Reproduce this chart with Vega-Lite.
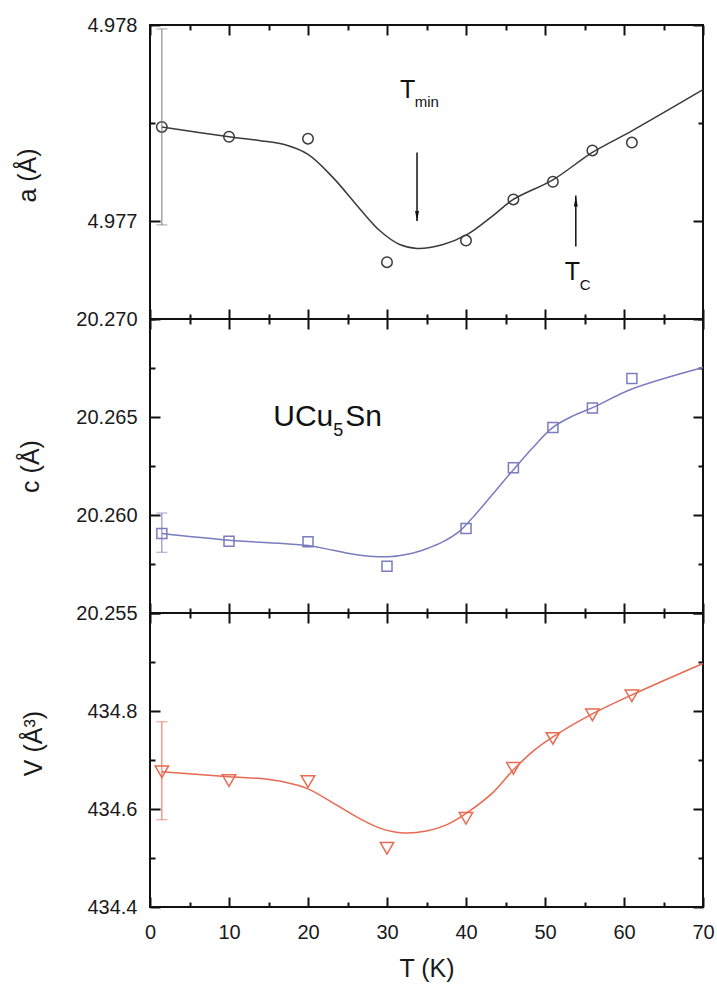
{
  "$schema": "https://vega.github.io/schema/vega-lite/v6.json",
  "padding": {"left": 14, "top": 14, "right": 10, "bottom": 5},
  "spacing": 0,
  "bounds": "flush",
  "datasets": {
    "a_pts": [{"T":1.5,"v":4.97748},{"T":10,"v":4.97743},{"T":20,"v":4.97742},{"T":30,"v":4.97679},{"T":40,"v":4.9769},{"T":46,"v":4.97711},{"T":51,"v":4.9772},{"T":56,"v":4.97736},{"T":61,"v":4.9774}],
    "a_fit": [{"T":1.5,"v":4.97748},{"T":10,"v":4.97743},{"T":14,"v":4.97741},{"T":17,"v":4.97739},{"T":20,"v":4.97734},{"T":23.2,"v":4.97722},{"T":26.6,"v":4.97706},{"T":29.1,"v":4.97695},{"T":31.6,"v":4.97688},{"T":33.8,"v":4.97686},{"T":37.1,"v":4.97688},{"T":40.1,"v":4.97693},{"T":43.5,"v":4.97703},{"T":46,"v":4.97711},{"T":51,"v":4.97721},{"T":56,"v":4.97735},{"T":61,"v":4.97746},{"T":70,"v":4.97767}],
    "a_err": [{"T":1.5,"lo":4.97698,"hi":4.97798}],
    "a_big": [{"T":31.65,"v":4.97763,"label":"T"},{"T":52.5,"v":4.9767,"label":"T"}],
    "a_small": [{"T":33.5,"v":4.97758,"label":"min"},{"T":54.4,"v":4.97665,"label":"C"}],
    "a_arrow": [{"T":33.8,"v":4.97735,"v2":4.977}, {"T":53.9,"v":4.97687,"v2":4.97713}],
    "a_head_down": [{"T":33.8,"v":4.977026}],
    "a_head_up": [{"T":53.9,"v":4.9771}],
    "c_pts": [{"T":1.5,"v":20.25905},{"T":10,"v":20.25866},{"T":20,"v":20.25864},{"T":30,"v":20.25739},{"T":40,"v":20.25931},{"T":46,"v":20.26241},{"T":51,"v":20.26447},{"T":56,"v":20.26546},{"T":61,"v":20.26697}],
    "c_fit": [{"T":1.5,"v":20.25905},{"T":10,"v":20.25871},{"T":20,"v":20.25844},{"T":23.2,"v":20.2582},{"T":26.6,"v":20.25795},{"T":30.2,"v":20.25787},{"T":32.9,"v":20.25802},{"T":35,"v":20.25828},{"T":37.1,"v":20.25864},{"T":39.2,"v":20.25918},{"T":41,"v":20.25994},{"T":43.5,"v":20.26112},{"T":46,"v":20.26231},{"T":48.5,"v":20.26346},{"T":51,"v":20.26447},{"T":53.6,"v":20.26507},{"T":56.1,"v":20.26549},{"T":61,"v":20.26643},{"T":70,"v":20.26753}],
    "c_err": [{"T":1.5,"lo":20.2581,"hi":20.2601}],
    "c_big": [{"T":15.6,"v":20.26456,"label":"UCu"},{"T":24.7,"v":20.26456,"label":"Sn"}],
    "c_small": [{"T":23.2,"v":20.26405,"label":"5"}],
    "V_pts": [{"T":1.5,"v":434.676},{"T":10,"v":434.658},{"T":20,"v":434.656},{"T":30,"v":434.52},{"T":40,"v":434.581},{"T":46,"v":434.683},{"T":51,"v":434.744},{"T":56,"v":434.792},{"T":61,"v":434.831}],
    "V_fit": [{"T":1.5,"v":434.676},{"T":10,"v":434.666},{"T":14,"v":434.662},{"T":17,"v":434.655},{"T":20,"v":434.641},{"T":23.2,"v":434.612},{"T":26.6,"v":434.58},{"T":29.1,"v":434.561},{"T":32.1,"v":434.551},{"T":35,"v":434.555},{"T":37.6,"v":434.568},{"T":40.1,"v":434.592},{"T":43.5,"v":434.635},{"T":46,"v":434.68},{"T":48.5,"v":434.718},{"T":51,"v":434.747},{"T":56.1,"v":434.795},{"T":61,"v":434.833},{"T":70,"v":434.897}],
    "V_err": [{"T":1.5,"lo":434.578,"hi":434.778}]
  },
  "vconcat": [
    {
      "width": 553, "height": 294,
      "resolve": {"axis": {"x": "independent", "y": "independent"}},
      "layer": [
        {"data": {"name": "a_fit"}, "mark": {"type": "line", "color": "#3a3a3a", "strokeWidth": 1.5, "interpolate": "catmull-rom"},
         "encoding": {
           "x": {"field": "T", "type": "quantitative", "scale": {"domain": [0, 70], "nice": false, "zero": false},
                 "axis": {"orient": "bottom", "values": [0,10,20,30,40,50,60,70], "labels": false, "title": null, "tickSize": 10, "offset": -10}},
           "y": {"field": "v", "type": "quantitative", "scale": {"domain": [4.9765, 4.978], "nice": false, "zero": false},
                 "axis": {"orient": "left", "values": [4.977, 4.978], "format": ".3f", "tickSize": 10, "offset": -10,
                          "labelPadding": 13, "title": "a (Å)", "titleAngle": 270, "titleX": -125, "titleY": 150, "titleAlign": "center", "titleBaseline": "alphabetic"}}
         }},
        {"data": {"name": "a_pts"}, "mark": {"type": "point", "shape": "circle", "size": 110, "strokeWidth": 1.5, "color": "#3a3a3a", "filled": false, "opacity": 1},
         "encoding": {
           "x": {"field": "T", "type": "quantitative",
                 "axis": {"orient": "top", "values": [0,10,20,30,40,50,60,70], "labels": false, "title": null, "tickSize": 10, "offset": -10}},
           "y": {"field": "v", "type": "quantitative",
                 "axis": {"orient": "right", "values": [4.977, 4.978], "labels": false, "title": null, "tickSize": 10, "offset": -10}}
         }},
        {"data": {"name": "a_err"}, "mark": {"type": "rule", "color": "#777777", "strokeWidth": 1},
         "encoding": {
           "x": {"field": "T", "type": "quantitative", "axis": {"orient": "bottom", "values": [5,15,25,35,45,55,65], "labels": false, "title": null, "tickSize": 5, "offset": -5}},
           "y": {"field": "lo", "type": "quantitative", "axis": {"orient": "left", "values": [4.9765, 4.9775], "labels": false, "title": null, "tickSize": 5, "offset": -5}},
           "y2": {"field": "hi"}}},
        {"data": {"name": "a_err"}, "mark": {"type": "tick", "orient": "horizontal", "color": "#777777", "size": 11, "thickness": 1},
         "encoding": {
           "x": {"field": "T", "type": "quantitative", "axis": {"orient": "top", "values": [5,15,25,35,45,55,65], "labels": false, "title": null, "tickSize": 5, "offset": -5}},
           "y": {"field": "lo", "type": "quantitative", "axis": {"orient": "right", "values": [4.9765, 4.9775], "labels": false, "title": null, "tickSize": 5, "offset": -5}}}},
        {"data": {"name": "a_err"}, "mark": {"type": "tick", "orient": "horizontal", "color": "#777777", "size": 11, "thickness": 1},
         "encoding": {"x": {"field": "T", "type": "quantitative", "axis": null}, "y": {"field": "hi", "type": "quantitative", "axis": null}}},
        {"data": {"name": "a_arrow"}, "mark": {"type": "rule", "color": "#111111", "strokeWidth": 1.5},
         "encoding": {"x": {"field": "T", "type": "quantitative", "axis": null}, "y": {"field": "v", "type": "quantitative", "axis": null}, "y2": {"field": "v2"}}},
        {"data": {"name": "a_head_down"}, "mark": {"type": "point", "shape": "M-0.4,-1L0.4,-1L0,1Z", "size": 100, "filled": true, "color": "#111111", "opacity": 1},
         "encoding": {"x": {"field": "T", "type": "quantitative", "axis": null}, "y": {"field": "v", "type": "quantitative", "axis": null}}},
        {"data": {"name": "a_head_up"}, "mark": {"type": "point", "shape": "M-0.4,1L0.4,1L0,-1Z", "size": 100, "filled": true, "color": "#111111", "opacity": 1},
         "encoding": {"x": {"field": "T", "type": "quantitative", "axis": null}, "y": {"field": "v", "type": "quantitative", "axis": null}}},
        {"data": {"name": "a_big"}, "mark": {"type": "text", "align": "left", "baseline": "alphabetic", "fontSize": 25, "color": "#111111"},
         "encoding": {"x": {"field": "T", "type": "quantitative", "axis": null}, "y": {"field": "v", "type": "quantitative", "axis": null}, "text": {"field": "label"}}},
        {"data": {"name": "a_small"}, "mark": {"type": "text", "align": "left", "baseline": "alphabetic", "fontSize": 15, "color": "#111111"},
         "encoding": {"x": {"field": "T", "type": "quantitative", "axis": null}, "y": {"field": "v", "type": "quantitative", "axis": null}, "text": {"field": "label"}}}
      ]
    },
    {
      "width": 553, "height": 294,
      "resolve": {"axis": {"x": "independent", "y": "independent"}},
      "layer": [
        {"data": {"name": "c_fit"}, "mark": {"type": "line", "color": "#7b7bbf", "strokeWidth": 1.5, "interpolate": "catmull-rom"},
         "encoding": {
           "x": {"field": "T", "type": "quantitative", "scale": {"domain": [0, 70], "nice": false, "zero": false},
                 "axis": {"orient": "bottom", "values": [0,10,20,30,40,50,60,70], "labels": false, "title": null, "tickSize": 10, "offset": -10}},
           "y": {"field": "v", "type": "quantitative", "scale": {"domain": [20.255, 20.27], "nice": false, "zero": false},
                 "axis": {"orient": "left", "values": [20.255, 20.26, 20.265, 20.27], "format": ".3f", "tickSize": 10, "offset": -10,
                          "labelPadding": 13, "title": "c (Å)", "titleAngle": 270, "titleX": -122, "titleY": 147, "titleAlign": "center", "titleBaseline": "alphabetic"}}
         }},
        {"data": {"name": "c_pts"}, "mark": {"type": "point", "shape": "square", "size": 100, "strokeWidth": 1.5, "color": "#7b7bbf", "filled": false, "opacity": 1},
         "encoding": {
           "x": {"field": "T", "type": "quantitative",
                 "axis": {"orient": "top", "values": [0,10,20,30,40,50,60,70], "labels": false, "title": null, "tickSize": 10, "offset": -10}},
           "y": {"field": "v", "type": "quantitative",
                 "axis": {"orient": "right", "values": [20.255, 20.26, 20.265, 20.27], "labels": false, "title": null, "tickSize": 10, "offset": -10}}
         }},
        {"data": {"name": "c_err"}, "mark": {"type": "rule", "color": "#7b7bbf", "strokeWidth": 1},
         "encoding": {
           "x": {"field": "T", "type": "quantitative", "axis": {"orient": "bottom", "values": [5,15,25,35,45,55,65], "labels": false, "title": null, "tickSize": 5, "offset": -5}},
           "y": {"field": "lo", "type": "quantitative", "axis": {"orient": "left", "values": [20.2575, 20.2625, 20.2675], "labels": false, "title": null, "tickSize": 5, "offset": -5}},
           "y2": {"field": "hi"}}},
        {"data": {"name": "c_err"}, "mark": {"type": "tick", "orient": "horizontal", "color": "#7b7bbf", "size": 11, "thickness": 1},
         "encoding": {
           "x": {"field": "T", "type": "quantitative", "axis": {"orient": "top", "values": [5,15,25,35,45,55,65], "labels": false, "title": null, "tickSize": 5, "offset": -5}},
           "y": {"field": "lo", "type": "quantitative", "axis": {"orient": "right", "values": [20.2575, 20.2625, 20.2675], "labels": false, "title": null, "tickSize": 5, "offset": -5}}}},
        {"data": {"name": "c_err"}, "mark": {"type": "tick", "orient": "horizontal", "color": "#7b7bbf", "size": 11, "thickness": 1},
         "encoding": {"x": {"field": "T", "type": "quantitative", "axis": null}, "y": {"field": "hi", "type": "quantitative", "axis": null}}},
        {"data": {"name": "c_big"}, "mark": {"type": "text", "align": "left", "baseline": "alphabetic", "fontSize": 30, "color": "#111111"},
         "encoding": {"x": {"field": "T", "type": "quantitative", "axis": null}, "y": {"field": "v", "type": "quantitative", "axis": null}, "text": {"field": "label"}}},
        {"data": {"name": "c_small"}, "mark": {"type": "text", "align": "left", "baseline": "alphabetic", "fontSize": 18, "color": "#111111"},
         "encoding": {"x": {"field": "T", "type": "quantitative", "axis": null}, "y": {"field": "v", "type": "quantitative", "axis": null}, "text": {"field": "label"}}}
      ]
    },
    {
      "width": 553, "height": 294,
      "resolve": {"axis": {"x": "independent", "y": "independent"}},
      "layer": [
        {"data": {"name": "V_fit"}, "mark": {"type": "line", "color": "#e86a50", "strokeWidth": 1.5, "interpolate": "catmull-rom"},
         "encoding": {
           "x": {"field": "T", "type": "quantitative", "scale": {"domain": [0, 70], "nice": false, "zero": false},
                 "axis": {"orient": "bottom", "values": [0,10,20,30,40,50,60,70], "labelPadding": 15, "tickSize": 10, "offset": -10,
                          "title": "T (K)", "titleX": 276.5, "titleY": 79, "titleAlign": "center", "titleBaseline": "alphabetic"}},
           "y": {"field": "v", "type": "quantitative", "scale": {"domain": [434.4, 435.0], "nice": false, "zero": false},
                 "axis": {"orient": "left", "values": [434.4, 434.6, 434.8, 435.0],
                          "labelExpr": "datum.value < 434.95 ? format(datum.value, '.1f') : ''", "tickSize": 10, "offset": -10,
                          "labelPadding": 13, "title": "V (Å³)", "titleAngle": 270, "titleX": -119, "titleY": 130, "titleAlign": "center", "titleBaseline": "alphabetic"}}
         }},
        {"data": {"name": "V_pts"}, "mark": {"type": "point", "shape": "triangle-down", "size": 180, "strokeWidth": 1.5, "color": "#e86a50", "filled": false, "opacity": 1},
         "encoding": {
           "x": {"field": "T", "type": "quantitative",
                 "axis": {"orient": "top", "values": [0,10,20,30,40,50,60,70], "labels": false, "title": null, "tickSize": 10, "offset": -10}},
           "y": {"field": "v", "type": "quantitative",
                 "axis": {"orient": "right", "values": [434.4, 434.6, 434.8, 435.0], "labels": false, "title": null, "tickSize": 10, "offset": -10}}
         }},
        {"data": {"name": "V_err"}, "mark": {"type": "rule", "color": "#e86a50", "strokeWidth": 1},
         "encoding": {
           "x": {"field": "T", "type": "quantitative", "axis": {"orient": "bottom", "values": [5,15,25,35,45,55,65], "labels": false, "title": null, "tickSize": 5, "offset": -5}},
           "y": {"field": "lo", "type": "quantitative", "axis": {"orient": "left", "values": [434.5, 434.7, 434.9], "labels": false, "title": null, "tickSize": 5, "offset": -5}},
           "y2": {"field": "hi"}}},
        {"data": {"name": "V_err"}, "mark": {"type": "tick", "orient": "horizontal", "color": "#e86a50", "size": 11, "thickness": 1},
         "encoding": {
           "x": {"field": "T", "type": "quantitative", "axis": {"orient": "top", "values": [5,15,25,35,45,55,65], "labels": false, "title": null, "tickSize": 5, "offset": -5}},
           "y": {"field": "lo", "type": "quantitative", "axis": {"orient": "right", "values": [434.5, 434.7, 434.9], "labels": false, "title": null, "tickSize": 5, "offset": -5}}}},
        {"data": {"name": "V_err"}, "mark": {"type": "tick", "orient": "horizontal", "color": "#e86a50", "size": 11, "thickness": 1},
         "encoding": {"x": {"field": "T", "type": "quantitative", "axis": null}, "y": {"field": "hi", "type": "quantitative", "axis": null}}}
      ]
    }
  ],
  "config": {
    "font": "Liberation Sans",
    "view": {"stroke": "#111111", "strokeWidth": 2},
    "axis": {"domain": false, "grid": false, "tickColor": "#111111", "tickWidth": 2,
             "labelFont": "Liberation Sans", "labelFontSize": 20, "labelColor": "#1a1a1a",
             "titleFont": "Liberation Sans", "titleFontSize": 25, "titleFontWeight": "normal", "titleColor": "#1a1a1a",
             "labelOverlap": false, "labelFlush": false, "labelBound": false},
    "text": {"font": "Liberation Sans"}
  }
}
